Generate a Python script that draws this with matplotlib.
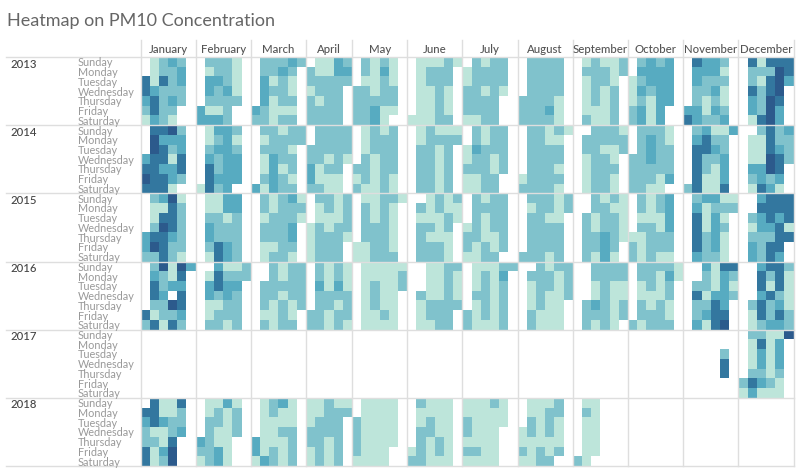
import numpy as np
import matplotlib
matplotlib.use('Agg')
import matplotlib.pyplot as plt
from matplotlib.colors import ListedColormap

months = ['January', 'February', 'March', 'April', 'May', 'June', 'July', 'August',
          'September', 'October', 'November', 'December']
days = ['Sunday', 'Monday', 'Tuesday', 'Wednesday', 'Thursday', 'Friday', 'Saturday']
years = ['2013', '2014', '2015', '2016', '2017', '2018']
# weeks shown per month, april only has 5 columns
weeks = [6, 6, 6, 5, 6, 6, 6, 6, 6, 6, 6, 6]
colors = ['#bde5da', '#80c2cc', '#57abc1', '#33779f', '#2c5a8c']

# concentration level per day (0 = no data), one string per weekday, one column per week
y2013 = [
    ['012320', '012230', '414230', '432220', '342320', '242200', '132100'],
    ['022210', '012210', '033210', '032310', '022220', '311200', '333200'],
    ['022232', '022320', '031210', '032210', '031220', '321110', '221220'],
    ['01132', '21133', '22222', '12220', '21220', '22220', '22220'],
    ['021210', '021310', '011210', '221220', '222220', '223110', '223100'],
    ['011121', '012220', '012220', '011210', '011210', '011210', '111220'],
    ['021220', '122220', '122220', '221210', '222200', '222200', '112200'],
    ['022220', '022220', '022220', '022220', '222210', '222310', '222210'],
    ['012112', '022212', '012210', '012120', '012120', '011120', '021120'],
    ['023230', '033330', '123330', '132330', '121330', '231300', '231300'],
    ['043320', '033310', '032220', '022310', '021210', '331320', '432230'],
    ['041444', '022254', '021453', '042450', '032540', '032530', '014530'],
]
y2014 = [
    ['044520', '053330', '054230', '344140', '443340', '544320', '444100'],
    ['013320', '012310', '023320', '032330', '042330', '043330', '142300'],
    ['022122', '012222', '022210', '013220', '013120', '023210', '313220'],
    ['02222', '02222', '22222', '22121', '31220', '31110', '22110'],
    ['012120', '012220', '012220', '021220', '221220', '121210', '211210'],
    ['012111', '012222', '022120', '022120', '022120', '022120', '022120'],
    ['021220', '021220', '132220', '122120', '222120', '112200', '112200'],
    ['022121', '022110', '022220', '022220', '022210', '122220', '222210'],
    ['002221', '022222', '022112', '012210', '012220', '012210', '012210'],
    ['022210', '023210', '023220', '223220', '222220', '222130', '221100'],
    ['023113', '034220', '044320', '042230', '042130', '041130', '241140'],
    ['002423', '011422', '011432', '011542', '033540', '023230', '014310'],
]
y2015 = [
    ['023510', '011420', '014420', '025420', '344320', '354220', '224210'],
    ['011330', '011330', '022120', '032220', '032220', '024320', '014320'],
    ['021231', '021222', '012221', '022230', '022230', '011220', '012210'],
    ['02212', '01212', '01112', '12122', '12221', '12220', '12220'],
    ['011221', '021210', '021210', '022210', '022210', '112210', '112220'],
    ['001212', '021211', '011121', '022120', '021110', '022210', '022210'],
    ['021220', '022220', '021220', '121220', '221120', '212120', '112200'],
    ['022212', '012212', '022110', '022220', '022220', '022220', '222120'],
    ['002121', '002211', '021221', '021221', '022321', '022320', '021310'],
    ['021230', '021230', '011130', '022130', '112220', '212220', '212110'],
    ['023311', '031222', '041310', '041320', '042310', '042310', '032210'],
    ['003444', '004444', '023434', '013341', '022244', '032440', '032430'],
]
y2016 = [
    ['025153', '032140', '042330', '043040', '022540', '412230', '241420'],
    ['003112', '014222', '034330', '032320', '011220', '012220', '022120'],
    ['002122', '002122', '022222', '022122', '021212', '011210', '021220'],
    ['02121', '02121', '03131', '02222', '02212', '22122', '22121'],
    ['011111', '011112', '012112', '012110', '012110', '011210', '011110'],
    ['001122', '001121', '001121', '021121', '012222', '012220', '011220'],
    ['011122', '012130', '012120', '022120', '012120', '212120', '211120'],
    ['002122', '022212', '012212', '012112', '012110', '021110', '021110'],
    ['002222', '002222', '001211', '001211', '023212', '022212', '021210'],
    ['022221', '022131', '012120', '011120', '021210', '022210', '212220'],
    ['003144', '002132', '022131', '041332', '022430', '023440', '031450'],
    ['003442', '004241', '004141', '003421', '024231', '014242', '012332'],
]
y2017 = [
    ['000000'] * 7, ['000000'] * 7, ['000000'] * 7, ['00000'] * 7,
    ['000000'] * 7, ['000000'] * 7, ['000000'] * 7, ['000000'] * 7,
    ['000000'] * 7, ['000000'] * 7,
    ['000000', '000000', '000020', '000040', '000040', '000000', '000000'],
    ['022115', '014130', '013130', '013130', '022120', '243210', '131110'],
]
y2018 = [
    ['041140', '441120', '343220', '211230', '221400', '413500', '412500'],
    ['011310', '012120', '022120', '021120', '321100', '223100', '123100'],
    ['012310', '012110', '011110', '011220', '311120', '312120', '132120'],
    ['11211', '11222', '12220', '22220', '22120', '12120', '12120'],
    ['011110', '011110', '211110', '211110', '211110', '211100', '111100'],
    ['021110', '011110', '012110', '022110', '021210', '121210', '221110'],
    ['111210', '111110', '211110', '211100', '111100', '221100', '111100'],
    ['011120', '011220', '021210', '121210', '111110', '212120', '112200'],
    ['011000', '021000', '011000', '011000', '011000', '011000', '210000'],
    ['000000'] * 7, ['000000'] * 7, ['000000'] * 7,
]
all_years = [y2013, y2014, y2015, y2016, y2017, y2018]


def year_block(year):
    return np.hstack([[[int(c) for c in row] for row in month] for month in year])


grid = np.vstack([year_block(y) for y in all_years]).astype(float)
grid[grid == 0] = np.nan

plt.rcParams['font.family'] = ['Lato', 'DejaVu Sans']
fig = plt.figure(figsize=(8, 4.71), dpi=100)
ax = fig.add_axes([140.5 / 800, 5 / 471, 653 / 800, 409 / 471])
ax.pcolormesh(np.arange(grid.shape[1] + 1), np.arange(grid.shape[0] + 1), grid,
              cmap=ListedColormap(colors), vmin=0.5, vmax=5.5)
ax.set_xlim(0, grid.shape[1])
ax.set_ylim(grid.shape[0], 0)
ax.axis('off')

line = '#dedede'
edges = np.concatenate([[0], np.cumsum(weeks)])
for e in edges:
    ax.plot([e, e], [-1.75, grid.shape[0]], color=line, lw=1.0, clip_on=False, zorder=3)
for i in range(len(years) + 1):
    ax.plot([-14.6, grid.shape[1]], [i * 7, i * 7], color=line, lw=1.0, clip_on=False, zorder=3)

for i, m in enumerate(months):
    ax.text((edges[i] + edges[i + 1]) / 2, -0.8, m, ha='center', va='center',
            fontsize=8.2, color='#555555', fontweight='medium')
for i, y in enumerate(years):
    ax.text(-14.1, i * 7 + 0.72, y, ha='left', va='center', fontsize=8.2,
            color='#444444', fontweight='medium')
    for j, d in enumerate(days):
        ax.text(-6.8, i * 7 + j + 0.6, d, ha='left', va='center', fontsize=7.8,
                color='#999999')

fig.text(7 / 800, 1 - 21 / 471, 'Heatmap on PM10 Concentration', ha='left', va='center',
         fontsize=13, color='#666666')

fig.savefig('out.png', dpi=100)
